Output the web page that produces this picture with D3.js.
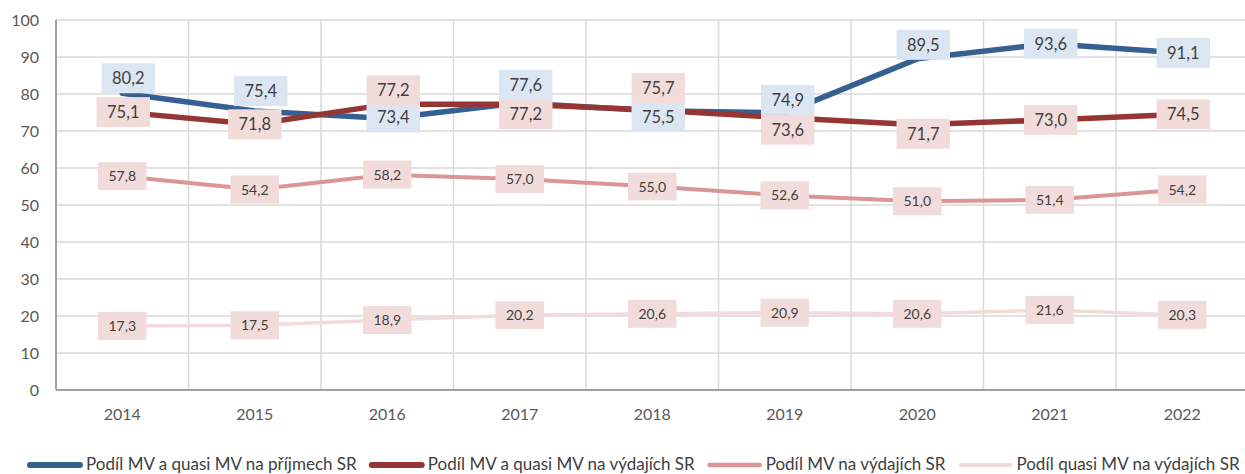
<!DOCTYPE html>
<meta charset="utf-8">
<style>
  body { margin: 0; background: #fff; }
  text { font-family: Lato, "Open Sans", sans-serif; }
  .grid { stroke: #d9d9d9; stroke-width: 1.5; }
  .axisline { stroke: #a0a0a0; stroke-width: 2; }
  .ticklabel { fill: #595959; font-size: 16px; }
  .series { fill: none; stroke-linejoin: round; stroke-linecap: round; }
  .lbl { fill: #404040; }
  .legend text { fill: #404040; font-size: 17px; }
</style>
<head>
  <script src="https://d3js.org/d3.v7.min.js"></script>
</head>
<body>
<div id="chart"></div>
<script>
  var years = ["2014", "2015", "2016", "2017", "2018", "2019", "2020", "2021", "2022"];
  var yTicks = [0, 10, 20, 30, 40, 50, 60, 70, 80, 90, 100];

  var seriesNames = [
    "Podíl MV a quasi MV na příjmech SR",
    "Podíl MV a quasi MV na výdajích SR",
    "Podíl MV na výdajích SR",
    "Podíl quasi MV na výdajích SR"
  ];
  var prijmy = [80.2, 75.4, 73.4, 77.6, 75.5, 74.9, 89.5, 93.6, 91.1];
  var vydaje = [75.1, 71.8, 77.2, 77.2, 75.7, 73.6, 71.7, 73.0, 74.5];
  var mvVydaje = [57.8, 54.2, 58.2, 57.0, 55.0, 52.6, 51.0, 51.4, 54.2];
  var quasiVydaje = [17.3, 17.5, 18.9, 20.2, 20.6, 20.9, 20.6, 21.6, 20.3];

  // posun popisku oproti bodu [dx, dy] (rucne jako v excelu)
  var prijmyShift = [[6,-15],[6,-20],[6,-1],[6,-18],[6,6],[3,-13],[6,-14],[1,0],[1,0]];
  var vydajeShift = [[1,0],[0,0],[6,-14],[6,10],[6,-22],[3,12],[6,9],[1,0],[1,0]];

  var W = 1245, H = 474;
  var plotLeft = 56, plotRight = 1248.5, plotTop = 20, plotBottom = 390;

  var styles = [
    {color: "#376092", width: 5.5, box: "#dce6f2", font: 16.5, boxH: 30, shift: prijmyShift},
    {color: "#963634", width: 5.5, box: "#f2dcdb", font: 16.5, boxH: 30, shift: vydajeShift},
    {color: "#da9694", width: 4, box: "#f2dcdb", font: 14, boxH: 28, shift: null},
    {color: "#f2dcdb", width: 3.5, box: "#f2dcdb", font: 14, boxH: 28, shift: null}
  ];
  var values = [prijmy, vydaje, mvVydaje, quasiVydaje];

  var x = d3.scaleBand().domain(years).range([plotLeft, plotRight]).padding(0);
  var y = d3.scaleLinear().domain([0, 100]).range([plotBottom, plotTop]);
  var cx = function (d) { return x(d) + x.bandwidth() / 2; };

  var svg = d3.select("#chart").append("svg")
          .attr("width", W)
          .attr("height", H);

  // horizontal grid
  svg.selectAll("line.hgrid").data(yTicks.filter(function (t) { return t > 0; })).enter()
          .append("line")
          .attr("class", "grid")
          .attr("x1", plotLeft).attr("x2", plotRight)
          .attr("y1", function (d) { return y(d); })
          .attr("y2", function (d) { return y(d); });

  // vertical grid at category borders
  svg.selectAll("line.vgrid").data(years.slice(1).concat(["end"])).enter()
          .append("line")
          .attr("class", "grid")
          .attr("x1", function (d, i) { return plotLeft + (i + 1) * x.step(); })
          .attr("x2", function (d, i) { return plotLeft + (i + 1) * x.step(); })
          .attr("y1", plotTop).attr("y2", plotBottom);

  svg.append("line").attr("class", "axisline")
          .attr("x1", plotLeft).attr("x2", plotLeft).attr("y1", plotTop).attr("y2", plotBottom);
  svg.append("line").attr("class", "axisline")
          .attr("x1", plotLeft).attr("x2", plotRight).attr("y1", plotBottom).attr("y2", plotBottom);

  svg.selectAll("text.ytick").data(yTicks).enter()
          .append("text")
          .attr("class", "ticklabel")
          .attr("x", 39)
          .attr("y", function (d) { return y(d); })
          .attr("dy", "0.36em")
          .attr("text-anchor", "end")
          .text(function (d) { return d; });

  svg.selectAll("text.xtick").data(years).enter()
          .append("text")
          .attr("class", "ticklabel")
          .attr("x", cx)
          .attr("y", 414)
          .attr("dy", "0.36em")
          .attr("text-anchor", "middle")
          .text(function (d) { return d; });

  var line = d3.line()
          .x(function (d, i) { return cx(years[i]); })
          .y(function (d) { return y(d); });

  values.forEach(function (v, s) {
    svg.append("path")
            .attr("class", "series")
            .attr("d", line(v))
            .attr("stroke", styles[s].color)
            .attr("stroke-width", styles[s].width);
  });

  // data labels on top of all lines
  var fmt = function (v) { return v.toFixed(1).replace(".", ","); };
  values.forEach(function (v, s) {
    var st = styles[s];
    var g = svg.append("g");
    v.forEach(function (val, i) {
      var sh = st.shift ? st.shift[i] : [0, 0];
      var px = cx(years[i]) + sh[0];
      var py = y(val) + sh[1];
      var lg = g.append("g");
      var rect = lg.append("rect").attr("fill", st.box);
      var t = lg.append("text")
              .attr("class", "lbl")
              .attr("x", px)
              .attr("y", py)
              .attr("dy", "0.36em")
              .attr("text-anchor", "middle")
              .style("font-size", st.font + "px")
              .text(fmt(val));
      var tw = t.node().getComputedTextLength();
      var bw = tw + 21;
      rect.attr("x", px - bw / 2).attr("y", py - st.boxH / 2)
              .attr("width", bw).attr("height", st.boxH);
    });
  });

  // legend
  var legend = svg.append("g").attr("class", "legend");
  var lx = 27, ly = 464;
  seriesNames.forEach(function (name, s) {
    legend.append("line")
            .attr("x1", lx + 3).attr("x2", lx + 53)
            .attr("y1", ly + 1).attr("y2", ly + 1)
            .attr("stroke", styles[s].color)
            .attr("stroke-width", styles[s].width + 0.5)
            .attr("stroke-linecap", "round");
    var t = legend.append("text")
            .attr("x", lx + 59)
            .attr("y", ly)
            .attr("dy", "0.36em")
            .text(name);
    lx = lx + 59 + t.node().getComputedTextLength() + 12;
  });
</script>
</body>
